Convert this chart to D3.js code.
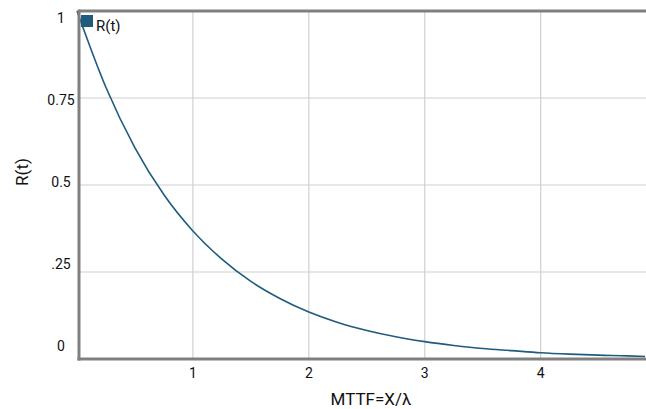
<!DOCTYPE html>
<html><head><meta charset="utf-8">
<script src="https://cdn.jsdelivr.net/npm/d3@7"></script>
<style>body{margin:0;background:#fff}svg{display:block;font-family:Roboto,"Noto Sans",sans-serif}</style>
</head><body><svg id="c" width="646" height="409"></svg>
<script>
const xValues = [0,0.25,0.5,0.75,1,1.25,1.5,1.75,2,2.25,2.5,2.75,3,3.25,3.5,3.75,4,4.25,4.5,4.75,4.9];
const rValues = [1,0.78,0.607,0.472,0.368,0.287,0.223,0.174,0.135,0.105,0.082,0.064,0.05,0.039,0.03,0.024,0.018,0.014,0.011,0.009,0.007];
const xTicks = [1,2,3,4];
const yTicks = [0,0.25,0.5,0.75,1];
const yTickLabels = ["0",".25","0.5","0.75","1"];
const seriesName = "R(t)";
const xTitle = "MTTF=X/λ";
const yTitle = "R(t)";

const svg = d3.select("#c");
const x = d3.scaleLinear().domain([0,4.9]).range([77,645]);
const y = d3.scaleLinear().domain([0,1]).range([359,11]);
const yLab = d3.scaleLinear().domain([0,1]).range([346,18]);
const color = "#1f5b7d", frame = "#808080", grid = "#d0d0d0", txt = "#111";

// gridlines
svg.append("g").selectAll("line").data(xTicks).join("line")
  .attr("x1",d=>x(d)).attr("x2",d=>x(d)).attr("y1",y(1)).attr("y2",y(0))
  .attr("stroke",grid).attr("stroke-width",1.2);
svg.append("g").selectAll("line").data(yTicks.filter(d=>d>0&&d<1)).join("line")
  .attr("x1",79).attr("x2",646).attr("y1",d=>y(d)).attr("y2",d=>y(d))
  .attr("stroke",grid).attr("stroke-width",1.2);

// curve
const pts = xValues.map((v,i)=>[v,rValues[i]]);
svg.append("path").datum(pts)
  .attr("d", d3.line().x(d=>x(d[0])).y(d=>y(d[1])).curve(d3.curveMonotoneX))
  .attr("fill","none").attr("stroke",color).attr("stroke-width",1.6);

// frame
svg.append("line").attr("x1",79).attr("x2",646).attr("y1",y(1)).attr("y2",y(1)).attr("stroke",frame).attr("stroke-width",3);
svg.append("line").attr("x1",77.5).attr("x2",646).attr("y1",y(0)).attr("y2",y(0)).attr("stroke",frame).attr("stroke-width",3);
svg.append("line").attr("x1",79).attr("x2",79).attr("y1",y(1)-1.5).attr("y2",y(0)+1.5).attr("stroke",frame).attr("stroke-width",3);

// tick labels
svg.append("g").selectAll("text").data(xTicks).join("text")
  .attr("x",d=>x(d)).attr("y",373).attr("dy","0.35em").attr("text-anchor","middle")
  .attr("font-size",14).attr("fill",txt).text(d=>d);
svg.append("g").selectAll("text").data(yTicks).join("text")
  .attr("x",61).attr("y",d=>yLab(d)).attr("dy","0.35em").attr("text-anchor","middle")
  .attr("font-size",14).attr("fill",txt).text((d,i)=>yTickLabels[i]);

// titles
svg.append("text").attr("x",371).attr("y",399).attr("dy","0.35em").attr("text-anchor","middle")
  .attr("font-size",17).attr("fill",txt).text(xTitle);
svg.append("text").attr("transform","translate(22,172) rotate(-90)").attr("dy","0.35em").attr("text-anchor","middle")
  .attr("font-size",17).attr("fill",txt).text(yTitle);

// legend
svg.append("rect").attr("x",81).attr("y",15).attr("width",12).attr("height",12).attr("fill",color);
svg.append("text").attr("x",96).attr("y",26).attr("dy","0.35em").attr("font-size",15).attr("fill",txt).text(seriesName);
</script></body></html>
